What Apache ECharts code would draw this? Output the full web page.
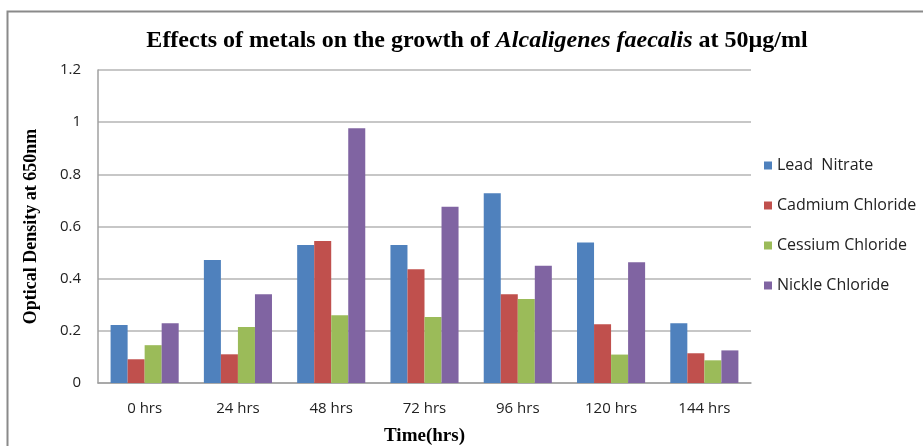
<!DOCTYPE html>
<html>
<head>
<meta charset="utf-8">
<style>
  html, body { margin: 0; padding: 0; background: #fff; }
  #chart { width: 923px; height: 446px; }
</style>
<script src="https://cdn.jsdelivr.net/npm/echarts@6/dist/echarts.min.js"></script>
</head>
<body>
<div id="chart"></div>
<script>
// Sampling times
const categories = ['0 hrs', '24 hrs', '48 hrs', '72 hrs', '96 hrs', '120 hrs', '144 hrs'];

// Optical density at 650nm for each metal salt (50µg/ml)
const leadNitrate     = [0.222, 0.472, 0.529, 0.529, 0.727, 0.539, 0.229];
const cadmiumChloride = [0.091, 0.110, 0.544, 0.436, 0.340, 0.225, 0.114];
const cessiumChloride = [0.145, 0.215, 0.260, 0.253, 0.322, 0.109, 0.087];
const nickleChloride  = [0.229, 0.340, 0.977, 0.676, 0.450, 0.463, 0.125];

const seriesNames = ['Lead  Nitrate', 'Cadmium Chloride', 'Cessium Chloride', 'Nickle Chloride'];
const seriesData = [leadNitrate, cadmiumChloride, cessiumChloride, nickleChloride];
const colors = ['#4F81BD', '#C0504D', '#9BBB59', '#8064A2'];

const chart = echarts.init(document.getElementById('chart'), null, { renderer: 'canvas' });

const sansFont = '"Open Sans", "Noto Sans", sans-serif';
const serifFont = '"Liberation Serif", "DejaVu Serif", serif';

chart.setOption({
  animation: false,
  backgroundColor: '#ffffff',
  color: colors,
  graphic: [{
    type: 'rect',
    left: 5, top: 9,
    shape: { width: 1000, height: 500 },
    style: { fill: 'none', stroke: '#8a8a8a', lineWidth: 2 },
    silent: true
  }],
  title: {
    text: '{b|Effects of metals on the growth of }{i|Alcaligenes faecalis}{b| at 50µg/ml}',
    left: 472, top: 24,
    textAlign: 'center',
    textStyle: {
      rich: {
        b: { fontFamily: serifFont, fontWeight: 'bold', fontSize: 24, color: '#000' },
        i: { fontFamily: serifFont, fontStyle: 'italic', fontSize: 24, color: '#000' }
      }
    }
  },
  legend: {
    orient: 'vertical',
    left: 759, top: 151,
    itemWidth: 8, itemHeight: 8,
    itemGap: 21,
    icon: 'rect',
    textStyle: { fontFamily: sansFont, fontSize: 16, color: '#222', lineHeight: 19 },
    data: seriesNames
  },
  grid: { left: 98, right: 172, top: 70, bottom: 63, containLabel: false, outerBoundsMode: 'none' },
  xAxis: {
    type: 'category',
    data: categories,
    name: 'Time(hrs)',
    nameLocation: 'middle',
    nameGap: 44,
    nameTextStyle: { fontFamily: serifFont, fontWeight: 'bold', fontSize: 19, color: '#000' },
    axisLine: { lineStyle: { color: '#a0a0a0', width: 1.5 } },
    axisTick: { show: false },
    axisLabel: { fontFamily: sansFont, fontSize: 15, color: '#222', margin: 18 }
  },
  yAxis: {
    type: 'value',
    min: 0, max: 1.2, interval: 0.2,
    name: 'Optical Density at 650nm',
    nameLocation: 'middle',
    nameGap: 58,
    nameTextStyle: { fontFamily: serifFont, fontWeight: 'bold', fontSize: 18, color: '#000' },
    axisLine: { show: true, lineStyle: { color: '#a0a0a0', width: 1.5 } },
    axisTick: { show: false },
    axisLabel: { fontFamily: sansFont, fontSize: 15, color: '#222', margin: 17 },
    splitLine: { lineStyle: { color: '#b4b4b4', width: 1.5 } }
  },
  series: seriesNames.map((name, i) => ({
    name,
    type: 'bar',
    data: seriesData[i],
    barGap: '0%',
    barCategoryGap: '27%',
    itemStyle: { color: colors[i] }
  }))
});
</script>
</body>
</html>
